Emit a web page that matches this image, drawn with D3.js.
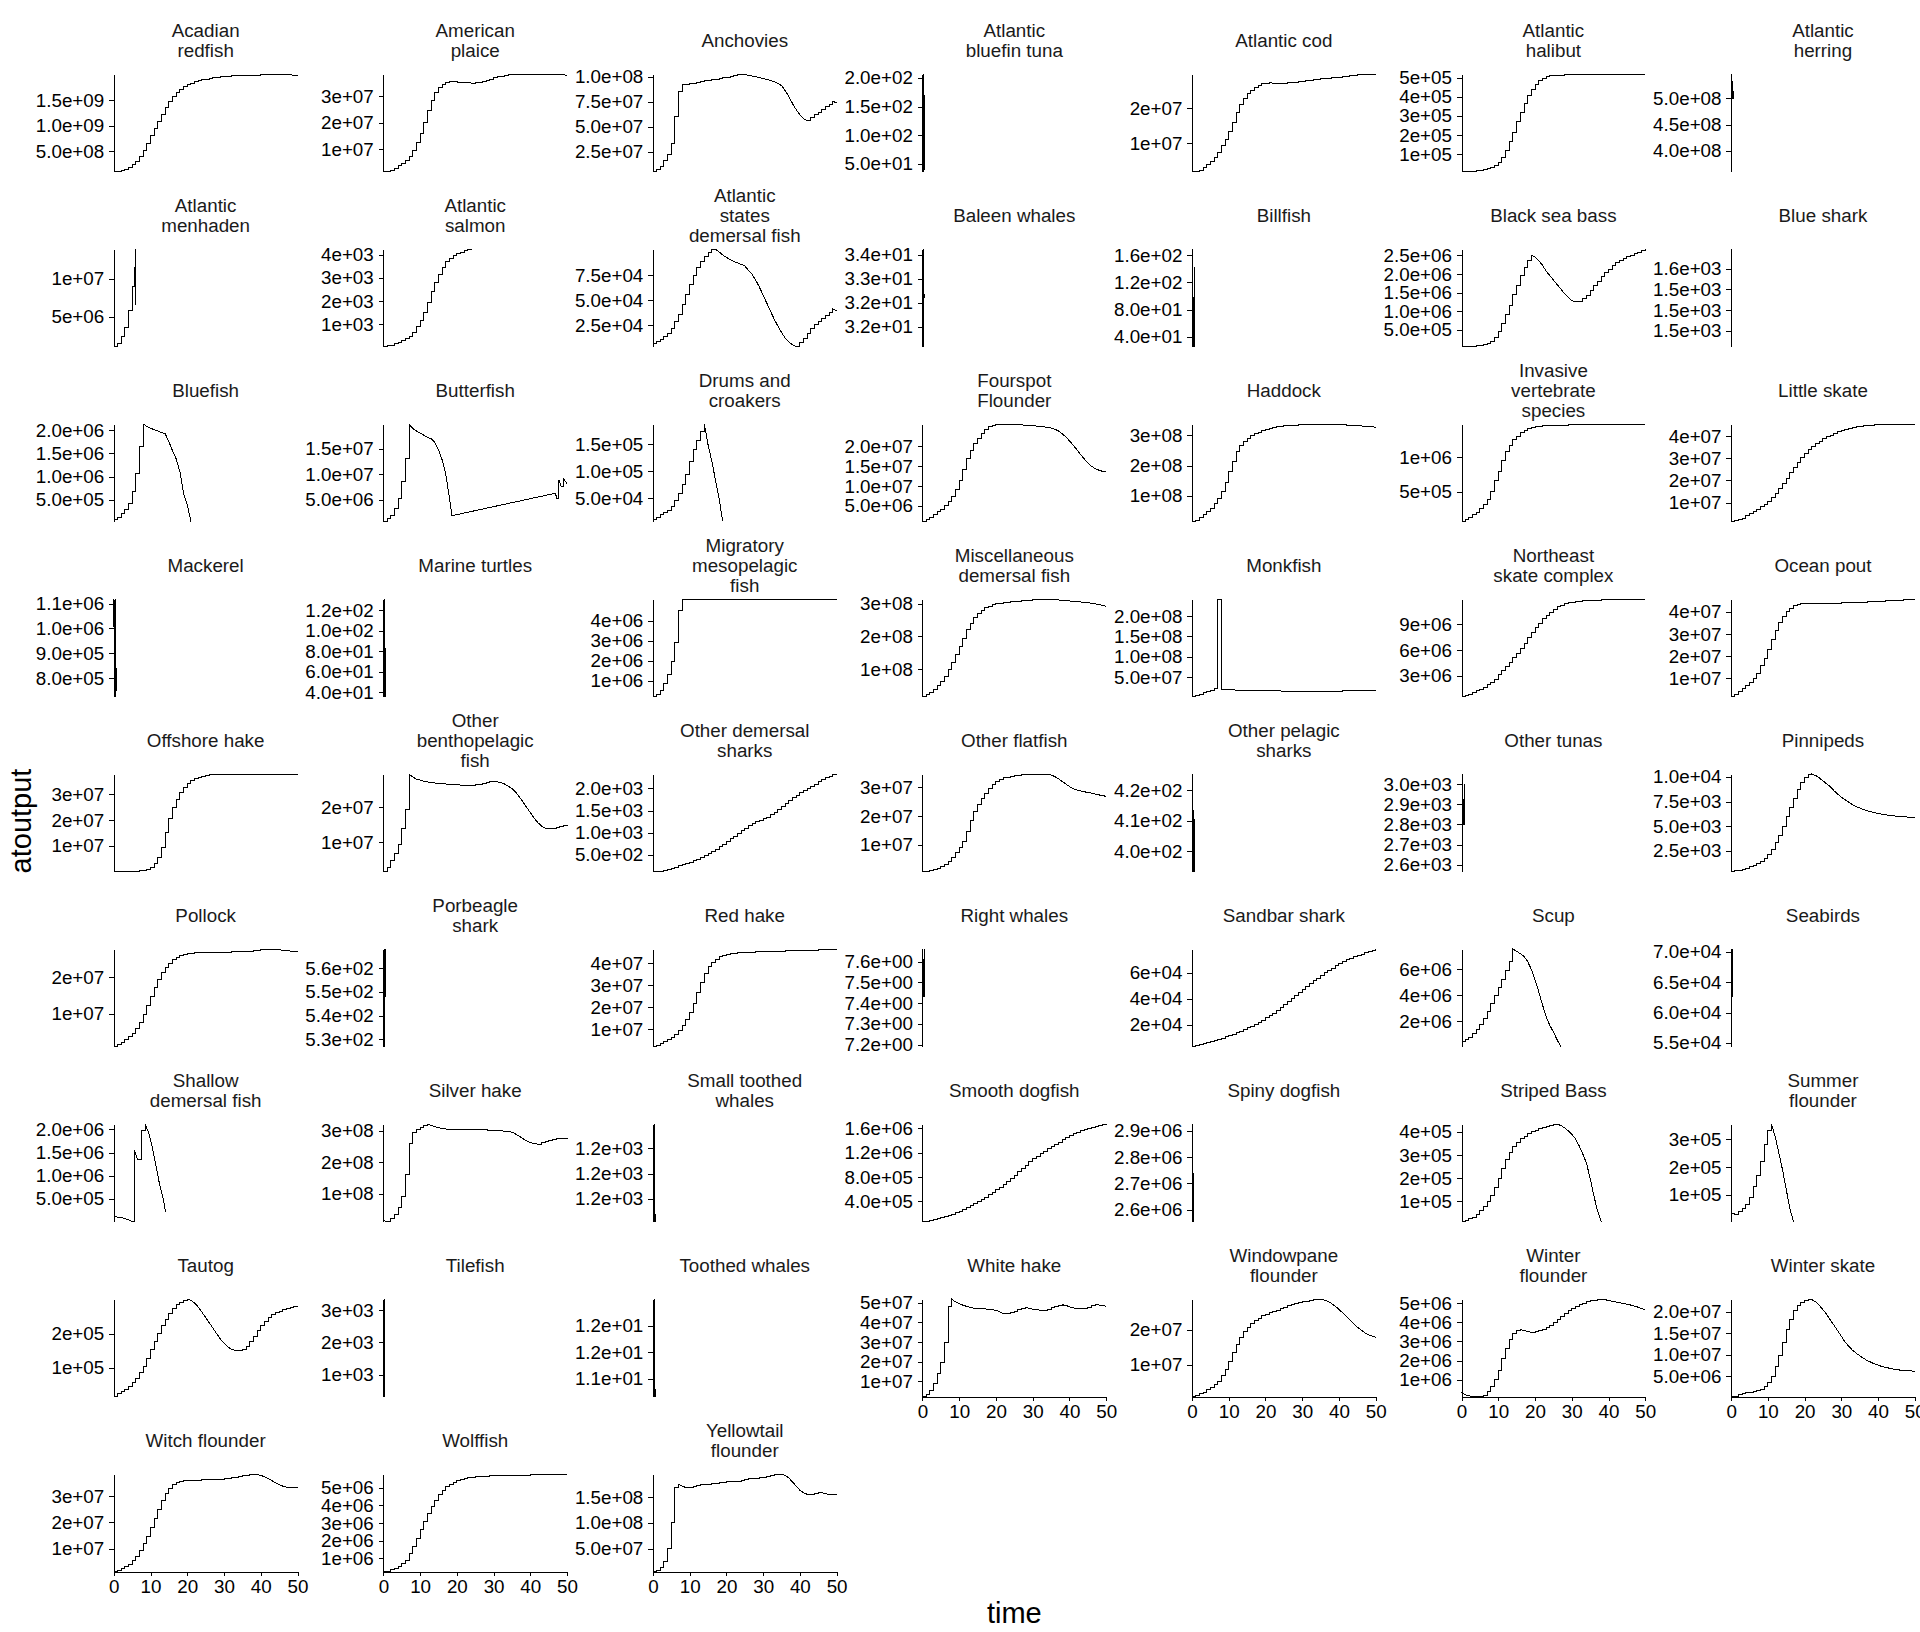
<!DOCTYPE html>
<html><head><meta charset="utf-8">
<script src="https://cdn.jsdelivr.net/npm/d3@7"></script>
<style>
html,body{margin:0;padding:0;background:#fff;}
svg{display:block;}
text{font-family:"Liberation Sans",Arial,Helvetica,sans-serif;}
</style></head><body>
<svg id="chart" width="1920" height="1632"></svg>
<script>
// ---------------- DATA ----------------
const speciesNames = [
 "Acadian redfish","American plaice","Anchovies","Atlantic bluefin tuna","Atlantic cod","Atlantic halibut","Atlantic herring",
 "Atlantic menhaden","Atlantic salmon","Atlantic states demersal fish","Baleen whales","Billfish","Black sea bass","Blue shark",
 "Bluefish","Butterfish","Drums and croakers","Fourspot Flounder","Haddock","Invasive vertebrate species","Little skate",
 "Mackerel","Marine turtles","Migratory mesopelagic fish","Miscellaneous demersal fish","Monkfish","Northeast skate complex","Ocean pout",
 "Offshore hake","Other benthopelagic fish","Other demersal sharks","Other flatfish","Other pelagic sharks","Other tunas","Pinnipeds",
 "Pollock","Porbeagle shark","Red hake","Right whales","Sandbar shark","Scup","Seabirds",
 "Shallow demersal fish","Silver hake","Small toothed whales","Smooth dogfish","Spiny dogfish","Striped Bass","Summer flounder",
 "Tautog","Tilefish","Toothed whales","White hake","Windowpane flounder","Winter flounder","Winter skate",
 "Witch flounder","Wolffish","Yellowtail flounder"
];

// unit multiplier of each series (values and ticks below are given in these units)
const yUnits = [
 1e8,1e6,1e6,1,1e6,1e4,1e8,
 1e6,1e3,1e3,1,1,1e5,1,
 1e5,1e6,1e4,1e6,1e7,1e5,1e6,
 1e5,1,1e6,1e7,1e6,1e5,1e6,
 1e6,1e6,1e2,1e6,1,1e3,1e3,
 1e6,1,1e6,1,1e3,1e5,1e4,
 1e5,1e7,1,1e5,1e6,1e4,1e4,
 1e4,1e3,1,1e6,1e6,1e5,1e6,
 1e6,1e5,1e7
];

const yTickValues = [
 [5,10,15],[10,20,30],[25,50,75,100],[50,100,150,200],[10,20],[10,20,30,40,50],[4.0,4.5,5.0],
 [5,10],[1,2,3,4],[25,50,75],[32,32.5,33,33.5],[40,80,120,160],[5,10,15,20,25],[1500,1520,1540,1560],
 [5,10,15,20],[5,10,15],[5,10,15],[5,10,15,20],[10,20,30],[5,10],[10,20,30,40],
 [8,9,10,11],[40,60,80,100,120],[1,2,3,4],[10,20,30],[50,100,150,200],[30,60,90],[10,20,30,40],
 [10,20,30],[10,20],[5,10,15,20],[10,20,30],[400,410,420],[2.6,2.7,2.8,2.9,3.0],[2.5,5,7.5,10],
 [10,20],[530,540,550,560],[10,20,30,40],[7.2,7.3,7.4,7.5,7.6],[20,40,60],[20,40,60],[5.5,6.0,6.5,7.0],
 [5,10,15,20],[10,20,30],[1210,1220,1230],[4,8,12,16],[2.6,2.7,2.8,2.9],[10,20,30,40],[10,20,30],
 [10,20],[1,2,3],[11.4,11.6,11.8],[10,20,30,40,50],[10,20],[10,20,30,40,50],[5,10,15,20],
 [10,20,30],[10,20,30,40,50],[5,10,15]
];

const yTickLabels = [
 ["5.0e+08","1.0e+09","1.5e+09"],["1e+07","2e+07","3e+07"],["2.5e+07","5.0e+07","7.5e+07","1.0e+08"],["5.0e+01","1.0e+02","1.5e+02","2.0e+02"],["1e+07","2e+07"],["1e+05","2e+05","3e+05","4e+05","5e+05"],["4.0e+08","4.5e+08","5.0e+08"],
 ["5e+06","1e+07"],["1e+03","2e+03","3e+03","4e+03"],["2.5e+04","5.0e+04","7.5e+04"],["3.2e+01","3.2e+01","3.3e+01","3.4e+01"],["4.0e+01","8.0e+01","1.2e+02","1.6e+02"],["5.0e+05","1.0e+06","1.5e+06","2.0e+06","2.5e+06"],["1.5e+03","1.5e+03","1.5e+03","1.6e+03"],
 ["5.0e+05","1.0e+06","1.5e+06","2.0e+06"],["5.0e+06","1.0e+07","1.5e+07"],["5.0e+04","1.0e+05","1.5e+05"],["5.0e+06","1.0e+07","1.5e+07","2.0e+07"],["1e+08","2e+08","3e+08"],["5e+05","1e+06"],["1e+07","2e+07","3e+07","4e+07"],
 ["8.0e+05","9.0e+05","1.0e+06","1.1e+06"],["4.0e+01","6.0e+01","8.0e+01","1.0e+02","1.2e+02"],["1e+06","2e+06","3e+06","4e+06"],["1e+08","2e+08","3e+08"],["5.0e+07","1.0e+08","1.5e+08","2.0e+08"],["3e+06","6e+06","9e+06"],["1e+07","2e+07","3e+07","4e+07"],
 ["1e+07","2e+07","3e+07"],["1e+07","2e+07"],["5.0e+02","1.0e+03","1.5e+03","2.0e+03"],["1e+07","2e+07","3e+07"],["4.0e+02","4.1e+02","4.2e+02"],["2.6e+03","2.7e+03","2.8e+03","2.9e+03","3.0e+03"],["2.5e+03","5.0e+03","7.5e+03","1.0e+04"],
 ["1e+07","2e+07"],["5.3e+02","5.4e+02","5.5e+02","5.6e+02"],["1e+07","2e+07","3e+07","4e+07"],["7.2e+00","7.3e+00","7.4e+00","7.5e+00","7.6e+00"],["2e+04","4e+04","6e+04"],["2e+06","4e+06","6e+06"],["5.5e+04","6.0e+04","6.5e+04","7.0e+04"],
 ["5.0e+05","1.0e+06","1.5e+06","2.0e+06"],["1e+08","2e+08","3e+08"],["1.2e+03","1.2e+03","1.2e+03"],["4.0e+05","8.0e+05","1.2e+06","1.6e+06"],["2.6e+06","2.7e+06","2.8e+06","2.9e+06"],["1e+05","2e+05","3e+05","4e+05"],["1e+05","2e+05","3e+05"],
 ["1e+05","2e+05"],["1e+03","2e+03","3e+03"],["1.1e+01","1.2e+01","1.2e+01"],["1e+07","2e+07","3e+07","4e+07","5e+07"],["1e+07","2e+07"],["1e+06","2e+06","3e+06","4e+06","5e+06"],["5.0e+06","1.0e+07","1.5e+07","2.0e+07"],
 ["1e+07","2e+07","3e+07"],["1e+06","2e+06","3e+06","4e+06","5e+06"],["5.0e+07","1.0e+08","1.5e+08"]
];

// series values (in yUnits); yearly time steps 0,1,2,... unless listed in seriesTimes
const seriesValues = [
 /* Acadian redfish */ [1.10,1.00,1.15,1.35,1.70,2.40,3.00,4.00,5.20,6.50,8.00,9.50,10.90,12.20,13.60,14.80,15.80,16.60,17.20,17.70,18.10,18.40,18.70,18.90,19.05,19.20,19.35,19.50,19.60,19.70,19.75,19.80,19.85,19.90,19.92,19.95,19.97,19.98,20.00,20.00,20.05,20.05,20.10,20.10,20.15,20.20,20.15,20.10,20.05,19.95,19.85],
 /* American plaice */ [1.7,1.8,2.2,2.9,3.8,4.8,5.8,7.3,9.5,12.5,16.0,20.0,24.5,28.5,31.5,33.5,34.6,35.2,35.5,35.5,35.4,35.3,35.2,35.1,35.0,35.1,35.3,35.7,36.1,36.5,36.9,37.3,37.6,37.9,38.1,38.2,38.3,38.4,38.4,38.3,38.3,38.4,38.4,38.3,38.3,38.3,38.3,38.2,38.3,38.1,37.9],
 /* Anchovies */ [5.4,7,10,16,22,33,60,85,92,92.5,93,93.5,94.5,95,96,96.5,97,97.5,98,98.8,99.5,100.5,101.5,102.2,102.5,102,101.3,100.5,99.8,99,98,97,96,95,93,91,86,80,73,67,62,58,56,59,62,64,67,70,72,75,74],
 /* Atlantic bluefin tuna */ [37,206.6,40,170,92],
 /* Atlantic cod */ [2.1,1.95,2.2,3.0,3.8,4.8,6.0,7.5,9.3,11.2,13.5,16,18.8,21.2,23,24.3,25.3,26.1,26.7,27.1,27.3,27.4,27.3,27.3,27.3,27.3,27.4,27.5,27.6,27.7,27.8,27.9,28.1,28.2,28.4,28.5,28.6,28.7,28.8,28.9,29.0,29.1,29.2,29.5,29.6,29.7,29.8,29.9,29.9,29.9,29.85],
 /* Atlantic halibut */ [1.2,0.9,1.0,1.1,1.3,1.6,2.0,2.5,3.1,4.2,5.8,8.2,11.8,16.5,21.5,27,32,36.5,40.5,44,46.5,48.5,49.8,50.6,51,51.2,51.3,51.4,51.5,51.6,51.7,51.7,51.8,51.8,51.8,51.9,51.9,51.9,51.9,52.0,52.0,52.0,52.0,52.0,52.0,52.0,52.0,52.0,52.0,52.0,52.0],
 /* Atlantic herring */ [3.6,5.47,5.3,5.0,5.15],
 /* Atlantic menhaden */ [1.1,1.5,2.4,3.6,5.8,8.9,11.5,13.87,6.5],
 /* Atlantic salmon */ [0.03,0.06,0.09,0.15,0.22,0.29,0.38,0.48,0.65,0.88,1.15,1.5,1.95,2.4,2.8,3.15,3.45,3.7,3.85,3.97,4.05,4.12,4.17,4.21,4.25],
 /* Atlantic states demersal fish */ [6.5,8.5,10.5,13,16,21,28,36,46,56,66,75,83,89,94,98,100.5,101.4,98.5,95.5,93,91,89,87.5,86,84.5,80,76,70,63,55,47,39,31,24,17.5,12,8,5,3.4,7,11,16,21,25,28,32,35,38,41,39],
 /* Baleen whales */ [31.59,33.62,32.6],
 /* Billfish */ [25.4,169.4,25.4,142.8],
 /* Black sea bass */ [0.57,0.6,0.62,0.65,0.75,0.9,1.1,1.4,2.0,3.0,4.7,6.8,9.2,11.6,14.5,17.0,19.5,21.8,23.6,25.0,24.6,23.6,22.4,20.8,19.6,18.4,17.2,16.0,14.8,13.8,12.9,12.5,12.7,13.3,14.3,15.5,16.8,18.0,19.2,20.3,21.3,22.2,23.0,23.6,24.2,24.7,25.1,25.5,25.9,26.3,26.7],
 /* Blue shark */ [1579,1484.7],
 /* Bluefish */ [0.7,1.2,2.1,2.9,4.3,6.8,10.7,16.5,21.3,20.8,20.4,20.1,19.8,19.5,19.2,17.5,15.5,13.8,11.0,6.4,3.9,0.34],
 /* Butterfish */ [0.81,1.3,2.0,3.3,5.2,8.5,13.0,19.75,18.9,18.4,18.0,17.6,17.2,16.9,16.2,14.8,12.8,10.0,1.94,6.3,5.2,8.9,7.6,9.2,8.2],
 /* Drums and croakers */ [1.0,1.4,1.9,2.3,2.7,3.5,4.5,5.8,7.5,9.5,11.8,14.0,15.8,17.5,18.8,15.0,12.0,8.5,5.0,0.67],
 /* Fourspot Flounder */ [1.07,1.5,2.1,2.8,3.5,4.2,5.0,6.0,7.3,9.0,11.5,14.2,17.0,19.0,20.6,22.0,23.3,24.3,24.9,25.2,25.4,25.5,25.6,25.6,25.6,25.5,25.5,25.4,25.3,25.2,25.2,25.1,25.0,24.9,24.8,24.6,24.3,23.9,23.2,22.4,21.4,20.3,19.2,18.0,16.9,15.8,15.0,14.4,14.0,13.7,13.5],
 /* Haddock */ [1.57,1.9,2.9,3.8,4.8,6.0,7.5,9.3,11.5,14.5,18,21.5,24.5,26.5,27.8,29,29.9,30.5,31.0,31.5,32.0,32.3,32.6,32.8,33.0,33.1,33.2,33.3,33.3,33.4,33.4,33.5,33.5,33.6,33.6,33.7,33.7,33.6,33.6,33.6,33.5,33.5,33.4,33.3,33.3,33.2,33.1,33.0,32.9,32.8,32.7],
 /* Invasive vertebrate species */ [0.64,0.9,1.2,1.6,2.0,2.5,3.1,3.9,5.0,6.6,8.0,9.5,10.8,11.8,12.6,13.1,13.6,14.0,14.2,14.4,14.5,14.55,14.6,14.65,14.7,14.7,14.7,14.72,14.74,14.75,14.75,14.76,14.77,14.78,14.79,14.8,14.81,14.82,14.83,14.84,14.85,14.86,14.86,14.87,14.87,14.88,14.88,14.87,14.86,14.85,14.85],
 /* Little skate */ [1.44,1.7,2.2,3.0,4.0,5.0,6.0,7.0,8.0,9.0,10.5,12.3,14.3,16.3,18.5,21.0,23.5,26.0,28.2,30.2,32.0,33.8,35.3,36.6,37.8,38.8,39.7,40.5,41.3,42.0,42.6,43.1,43.6,44.0,44.3,44.5,44.7,44.9,45.0,45.1,45.2,45.2,45.3,45.3,45.4,45.4,45.4,45.5,45.5,45.5,45.5],
 /* Mackerel */ [11.18,7.26,11.18,7.9,8.4,7.5],
 /* Marine turtles */ [36,130.8,36,83.3],
 /* Migratory mesopelagic fish */ [0.195,0.3,0.5,0.85,1.3,1.95,2.9,4.5,5.09,5.095,5.095,5.095,5.095,5.095,5.095,5.095,5.095,5.095,5.095,5.095,5.095,5.095,5.095,5.095,5.095,5.095,5.095,5.095,5.095,5.095,5.095,5.095,5.095,5.095,5.095,5.095,5.095,5.095,5.095,5.095,5.095,5.095,5.095,5.095,5.095,5.095,5.095,5.095,5.095,5.095,5.095],
 /* Miscellaneous demersal fish */ [1.67,2.2,3.0,3.9,5.0,6.2,7.8,9.8,12.0,14.5,17.0,19.5,22.0,24.0,25.8,27.0,28.0,28.7,29.2,29.6,29.9,30.1,30.3,30.4,30.5,30.6,30.7,30.8,30.9,31.0,31.1,31.2,31.3,31.35,31.36,31.3,31.2,31.1,31.0,30.9,30.8,30.7,30.6,30.5,30.4,30.3,30.1,29.9,29.7,29.5,29.2],
 /* Monkfish */ [2.2,4,8,11,14,18,23,242,242,19,18.8,18.6,18.4,18.2,18.0,17.8,17.6,17.4,17.2,17.0,16.8,16.6,16.4,16.2,16.0,15.8,15.7,15.6,15.5,15.4,15.3,15.2,15.2,15.1,15.1,15.1,15.2,15.2,15.3,15.4,15.5,15.6,15.8,16.0,16.2,16.4,16.6,16.8,17.0,17.2,17.4,17.6],
 /* Northeast skate complex */ [6.0,7,8.5,10.5,12.5,14.5,17,19.5,22.5,26,31,36,41,46,51,56,62,68,74,80,86,91,96,100,104,107,110,112,113.5,114.5,115.5,116,116.5,117,117.3,117.5,117.7,117.8,118,118.2,118.4,118.5,118.6,118.7,118.8,119,119,118.8,118.8,118.7,118.6],
 /* Ocean pout */ [1.67,2.5,3.8,5.2,6.5,7.8,9.8,12.3,15.5,19,23,27.5,31.5,35,37.8,40,41.7,42.7,43.3,43.6,43.8,43.9,43.9,43.9,43.9,44.0,44.0,44.0,44.0,44.0,44.1,44.1,44.2,44.3,44.3,44.4,44.4,44.5,44.6,44.7,44.8,44.9,45.0,45.1,45.2,45.3,45.4,45.5,45.6,45.7,45.8],
 /* Offshore hake */ [0.1,0.05,0,0,0.05,0.1,0.2,0.3,0.4,0.8,1.5,3,5.5,9.5,15,20.5,24.8,28,30.5,32.5,34,35.2,36,36.6,37,37.3,37.5,37.6,37.7,37.7,37.8,37.8,37.8,37.8,37.8,37.8,37.8,37.8,37.8,37.8,37.8,37.8,37.8,37.8,37.8,37.7,37.7,37.7,37.6,37.6,37.6],
 /* Other benthopelagic fish */ [1.75,3,5,7,9.5,14,19.5,29.4,28.6,28.0,27.7,27.4,27.2,27.0,26.9,26.8,26.7,26.6,26.5,26.5,26.4,26.3,26.2,26.2,26.3,26.4,26.6,26.8,27.0,27.2,27.3,27.2,27.0,26.6,26.0,25.3,24.3,23.0,21.5,20.0,18.5,17.0,15.7,14.7,14.1,13.9,14.0,14.3,14.6,14.9,15.1],
 /* Other demersal sharks */ [1.3,1.19,1.25,1.4,1.6,1.9,2.2,2.45,2.7,3.0,3.3,3.6,4.0,4.4,4.8,5.2,5.7,6.2,6.8,7.4,8.0,8.6,9.2,9.8,10.4,11.0,11.6,12.1,12.5,12.8,13.1,13.5,14.0,14.6,15.3,16.0,16.7,17.3,17.9,18.5,19.0,19.5,20.0,20.5,21.0,21.5,22.0,22.4,22.8,23.1,23.24],
 /* Other flatfish */ [0.68,0.8,1.0,1.4,1.9,2.5,3.3,4.3,5.5,7.2,9.0,11.0,14.5,18.5,21.5,24,26,28,29.7,31,32.2,32.9,33.3,33.6,33.9,34.1,34.3,34.4,34.5,34.55,34.6,34.6,34.6,34.6,34.5,34.3,33.8,33.0,32.1,31.2,30.3,29.6,29.1,28.8,28.5,28.2,28.0,27.7,27.4,27.1,26.9],
 /* Other pelagic sharks */ [393.4,425.2,393.4,410.6],
 /* Other tunas */ [2.566,3.05,2.8,3.0],
 /* Pinnipeds */ [0.393,0.45,0.55,0.65,0.75,0.88,1.0,1.2,1.45,1.75,2.1,2.6,3.3,4.1,5.0,6.0,6.9,7.8,8.7,9.4,9.9,10.2,10.28,10.15,9.9,9.6,9.3,9.0,8.6,8.25,7.95,7.7,7.45,7.2,7.0,6.85,6.7,6.58,6.47,6.38,6.3,6.22,6.16,6.1,6.06,6.02,5.98,5.95,5.93,5.91,5.9],
 /* Pollock */ [1.0,1.5,2.2,3.0,3.8,4.7,6.0,7.6,9.8,12.2,14.7,17.2,19.5,21.4,22.8,23.9,24.8,25.5,26.0,26.3,26.5,26.6,26.7,26.7,26.7,26.7,26.7,26.8,26.8,26.8,26.9,26.9,27.0,27.0,27.1,27.1,27.2,27.2,27.3,27.4,27.5,27.5,27.6,27.7,27.7,27.6,27.4,27.3,27.2,27.1,27.0],
 /* Porbeagle shark */ [527,568,548,568],
 /* Red hake */ [2.0,2.5,3.3,4.2,5.1,6.2,7.6,9.2,11.5,14.3,17.5,21.5,26.5,31.5,35.5,38.5,40.5,42,43,43.7,44.1,44.4,44.6,44.8,44.9,45.0,45.1,45.2,45.3,45.3,45.4,45.4,45.5,45.5,45.6,45.6,45.7,45.7,45.8,45.8,45.9,45.9,46.0,46.0,46.1,46.2,46.3,46.4,46.4,46.5,46.5],
 /* Right whales */ [7.19,7.661,7.43,7.661],
 /* Sandbar shark */ [3.2,3.8,4.5,5.2,6.0,6.9,7.8,8.7,9.7,10.7,11.7,12.8,13.9,15.0,16.3,17.6,19.0,20.5,22.0,23.6,25.2,27.0,28.9,30.9,33.0,35.2,37.5,39.9,42.3,44.8,47.3,49.6,51.8,53.9,55.9,57.9,59.8,61.7,63.5,65.2,66.9,68.4,69.8,71.1,72.3,73.4,74.4,75.4,76.3,77.2,78.1],
 /* Scup */ [4.5,6,8,11,14,17.5,22,28,34,40,46,52,59,66,75.5,74,72,70,66,60,52,43,33,24,17,12,6,0.69],
 /* Seabirds */ [5.4393,7.0443,6.264,7.0443],
 /* Shallow demersal fish */ [1.25,1.1,0.95,0.8,0.5,0.11,15.6,13.4,19.8,21.1,19.2,16.0,12.0,8.0,4.8,2.1],
 /* Silver hake */ [1.5,1.12,2.0,3.5,5.5,9,16,26,29.5,30.5,31.2,31.8,32.1,31.8,31.3,31.0,30.8,30.6,30.5,30.4,30.4,30.3,30.3,30.3,30.4,30.4,30.4,30.3,30.3,30.2,30.2,30.1,30.0,29.9,29.8,29.6,29.0,28.3,27.5,26.8,26.2,26.0,25.8,26.2,26.6,27.0,27.3,27.5,27.6,27.7,27.8],
 /* Small toothed whales */ [1201,1239.5,1201],
 /* Smooth dogfish */ [0.66,0.75,0.88,1.02,1.2,1.38,1.52,1.7,1.9,2.1,2.35,2.65,2.95,3.3,3.65,4.0,4.35,4.7,5.1,5.5,5.9,6.35,6.8,7.3,7.8,8.3,8.85,9.4,9.95,10.5,11.0,11.45,11.85,12.25,12.65,13.0,13.4,13.75,14.1,14.45,14.8,15.1,15.4,15.65,15.85,16.0,16.15,16.3,16.45,16.58,16.69],
 /* Spiny dogfish */ [2.554,2.925,2.554,2.738],
 /* Striped Bass */ [1.5,1.8,2.4,3.2,4.5,6,7.8,9.8,12.5,16,20,24,28,31,33.5,35.5,37,38.2,39.2,40,40.7,41.3,41.8,42.3,42.8,43.2,43.3,42.8,41.8,40.5,39.0,37.0,34.0,30.5,26.5,20,12.5,6,1.26],
 /* Summer flounder */ [3.4,3.0,4.0,5.0,6.4,9,13,17,22,28,33.3,35.46,31,25,19,12,5,0.27],
 /* Tautog */ [1.57,2.4,3.0,3.6,4.5,5.6,7.0,8.6,10.5,12.8,15.3,17.8,20.2,22.3,24.2,26.0,27.4,28.5,29.3,29.8,30.1,29.8,29.0,27.8,26.3,24.8,23.2,21.6,20.0,18.5,17.2,16.2,15.5,15.1,15.0,15.3,16.2,17.6,19.3,21.0,22.5,23.7,24.7,25.5,26.1,26.6,27.0,27.4,27.7,28.0,28.2],
 /* Tilefish */ [0.317,3.332,0.317],
 /* Toothed whales */ [11.266,12.001,11.266],
 /* White hake */ [2.15,3.5,5.5,9,14,19.5,30,48,51.8,50.5,49.5,48.8,48.2,47.6,47.3,47.1,47.0,46.9,46.7,46.5,46.2,45.5,44.4,44.6,45.2,45.8,46.5,47.2,47.6,47.3,46.8,46.5,46.3,46.2,46.8,47.6,48.3,48.8,49.0,48.7,48.0,47.4,47.1,47.0,47.1,47.6,48.4,49.0,48.9,48.6,48.3],
 /* Windowpane flounder */ [0.8,1.1,1.6,2.1,2.8,3.5,4.2,5.3,6.8,8.6,10.8,13.4,15.8,17.8,19.4,20.8,21.9,22.7,23.4,24.0,24.5,24.9,25.3,25.7,26.1,26.5,26.9,27.2,27.5,27.8,28.1,28.3,28.5,28.7,28.8,28.8,28.6,28.2,27.6,26.8,25.9,24.9,23.9,22.8,21.8,20.8,20.0,19.2,18.6,18.2,17.9],
 /* Winter flounder */ [3.5,2.0,1.5,1.2,1.1,1.04,1.5,3.5,6.5,10,15,21,26.5,31,34,35.5,36.2,35.8,35.2,34.8,35,35.5,36.3,37.3,38.6,40,41.5,43,44.5,46,47.2,48.2,49.2,50,50.7,51.3,51.7,52,52.1,51.9,51.5,51.1,50.7,50.3,49.9,49.5,49.1,48.6,48.0,47.3,46.5],
 /* Winter skate */ [0.3,0.27,0.8,1.0,1.2,1.3,1.4,1.7,2.0,2.6,3.5,5.0,7.2,9.8,12.8,15.8,18.3,20.2,21.4,22.2,22.7,22.9,22.8,22.3,21.5,20.5,19.4,18.1,16.9,15.6,14.3,13.0,12.0,11.1,10.4,9.8,9.2,8.7,8.3,7.9,7.6,7.3,7.1,6.9,6.7,6.55,6.45,6.35,6.3,6.25,6.2],
 /* Witch flounder */ [1.16,1.6,2.2,3.0,4.0,5.3,7.0,9.2,11.8,14.7,18,21.5,25,28.2,31,33,34.3,35.1,35.6,35.9,36.0,36.1,36.1,36.1,36.2,36.2,36.3,36.3,36.4,36.5,36.6,36.7,36.9,37.1,37.4,37.7,38.0,38.2,38.3,38.2,37.9,37.4,36.7,35.9,35.1,34.4,33.8,33.4,33.2,33.1,33.1],
 /* Wolffish */ [2.4,2.8,3.4,4.2,5.4,7.0,9.0,12.5,16.5,21.5,26.5,31,35.5,39.5,43,46,48.5,50.5,52,53.2,54.1,54.8,55.3,55.7,56,56.2,56.4,56.5,56.6,56.7,56.8,56.8,56.9,56.9,57,57,57.1,57.1,57.2,57.2,57.3,57.3,57.4,57.4,57.5,57.5,57.5,57.6,57.6,57.6,57.6],
 /* Yellowtail flounder */ [0.47,0.8,1.2,2.5,5.0,10,17,17.5,17.2,16.9,17.0,17.2,17.4,17.5,17.6,17.6,17.7,17.8,17.9,17.9,18.0,18.0,18.0,18.1,18.3,18.5,18.6,18.6,18.7,18.8,18.9,19.1,19.3,19.4,19.5,19.5,19.3,18.8,18.0,17.2,16.4,15.9,15.6,15.6,15.8,16.0,15.9,15.7,15.6,15.6,15.7]
];

// irregular sampling times for some series
const seriesTimes = {
 "Atlantic bluefin tuna": [0,0.2,0.3,0.45,0.6],
 "Atlantic herring": [0,0.05,0.3,0.5,0.7],
 "Atlantic menhaden": [0,1,2,3,4,5,5.6,5.85,5.95],
 "Baleen whales": [0,0.2,0.45],
 "Billfish": [0,0.15,0.4,0.55],
 "Blue shark": [0,0.05],
 "Butterfish": [0,1,2,3,4,5,6,7,8,9,10,11,12,13,14,15,16,17,18.7,46.8,47.3,47.8,48.4,48.9,50],
 "Mackerel": [0,0.2,0.35,0.5,0.6,0.7],
 "Marine turtles": [0,0.2,0.4,0.6],
 "Monkfish": [0,1,2,3,4,5,6,7,7.9,8,9,10,11,12,13,14,15,16,17,18,19,20,21,22,23,24,25,26,27,28,29,30,31,32,33,34,35,36,37,38,39,40,41,42,43,44,45,46,47,48,49,50],
 "Other pelagic sharks": [0,0.2,0.4,0.55],
 "Other tunas": [0,0.3,0.5,0.7],
 "Porbeagle shark": [0,0.2,0.4,0.6],
 "Right whales": [0,0.1,0.35,0.5],
 "Seabirds": [0,0.1,0.3,0.45],
 "Shallow demersal fish": [0,1,2,3,4,5,5.5,6.5,7.5,8.5,9.5,10.5,11.5,12.5,13.5,14.1],
 "Small toothed whales": [0,0.3,0.6],
 "Spiny dogfish": [0,0.15,0.3,0.45],
 "Tilefish": [0,0.2,0.4],
 "Toothed whales": [0,0.3,0.6]
};

const xDomain = [0, 50];
const xTickValues = [0, 10, 20, 30, 40, 50];
const xAxisTitle = "time";
const yAxisTitle = "atoutput";

// ---------------- LAYOUT ----------------
const nCols = 7;
const colX0 = 113.8, colStep = 269.55, plotW = 183.7;
const rowY0 = 74, rowStep = 175.04, plotH = 97.4;
const fs = 18.8;
const tickLen = 4.6;
const titleGap = 34, titleLineH = 20, wrapWidth = 14;

const svg = d3.select("#chart");
svg.append("rect").attr("width", 1920).attr("height", 1632).attr("fill", "#fff");

const x = d3.scaleLinear().domain(xDomain).range([0, plotW]);

function wrapTitle(s, w) {
  const words = s.split(" ");
  const lines = [];
  let cur = "";
  words.forEach(wd => {
    if (cur === "") cur = wd;
    else if ((cur + " " + wd).length <= w) cur += " " + wd;
    else { lines.push(cur); cur = wd; }
  });
  if (cur) lines.push(cur);
  return lines;
}

function buildPath(pts, xs, ys) {
  let d = `M${xs(pts[0][0])},${ys(pts[0][1])}`;
  for (let k = 1; k < pts.length; k++) {
    const [t0, v0] = pts[k - 1], [t1, v1] = pts[k];
    if (v1 > v0 && t1 - t0 <= 1.01) d += `H${xs(t1)}V${ys(v1)}`;
    else d += `L${xs(t1)},${ys(v1)}`;
  }
  return d;
}

const nPanels = speciesNames.length;
speciesNames.forEach((name, i) => {
  const c = i % nCols, r = Math.floor(i / nCols);
  const g = svg.append("g").attr("transform", `translate(${colX0 + c * colStep},${rowY0 + r * rowStep})`);
  const unit = yUnits[i];
  const vals = seriesValues[i];
  const times = seriesTimes[name] || vals.map((_, k) => k);
  const pts = [];
  vals.forEach((v, k) => { if (v != null) pts.push([times[k], v * unit]); });
  const y = d3.scaleLinear().domain(d3.extent(pts, p => p[1])).range([plotH, 0]);

  // data line
  g.append("path")
    .attr("d", buildPath(pts, x, y))
    .attr("fill", "none")
    .attr("stroke", "#000")
    .attr("stroke-width", 1)
    .attr("shape-rendering", "crispEdges");

  // y axis
  const labelMap = new Map(yTickValues[i].map((v, j) => [v * unit, yTickLabels[i][j]]));
  const yAxis = d3.axisLeft(y)
    .tickValues(yTickValues[i].map(v => v * unit))
    .tickFormat(d => labelMap.get(d))
    .tickSize(tickLen).tickSizeOuter(0).tickPadding(5);
  const ya = g.append("g").call(yAxis);
  ya.attr("font-family", null).attr("font-size", null);
  ya.select(".domain").attr("stroke", "#000").attr("stroke-width", 1).attr("shape-rendering", "crispEdges");
  ya.selectAll(".tick line").attr("stroke", "#000").attr("stroke-width", 1).attr("shape-rendering", "crispEdges");
  ya.selectAll(".tick text").attr("fill", "#000").attr("font-size", fs).attr("dy", "0.32em");

  // x axis only on the lowest panel of each column
  if (i + nCols >= nPanels) {
    const xa = g.append("g").attr("transform", `translate(0,${plotH})`)
      .call(d3.axisBottom(x).tickValues(xTickValues).tickSize(tickLen).tickSizeOuter(0).tickPadding(3.5));
    xa.attr("font-family", null).attr("font-size", null);
    xa.select(".domain").attr("stroke", "#000").attr("stroke-width", 1).attr("shape-rendering", "crispEdges");
    xa.selectAll(".tick line").attr("stroke", "#000").attr("stroke-width", 1).attr("shape-rendering", "crispEdges");
    xa.selectAll(".tick text").attr("fill", "#000").attr("font-size", fs);
  }

  // strip title
  const lines = wrapTitle(name, wrapWidth);
  const n = lines.length;
  lines.forEach((ln, k) => {
    g.append("text")
      .attr("x", plotW / 2)
      .attr("y", -titleGap + (k - (n - 1) / 2) * titleLineH + 0.36 * fs)
      .attr("text-anchor", "middle")
      .attr("font-size", fs)
      .attr("fill", "#1a1a1a")
      .text(ln);
  });
});

// axis titles
svg.append("text")
  .attr("x", 1014.3).attr("y", 1623)
  .attr("text-anchor", "middle").attr("font-size", 29).attr("fill", "#000")
  .text(xAxisTitle);
svg.append("text")
  .attr("transform", "translate(31,821) rotate(-90)")
  .attr("text-anchor", "middle").attr("font-size", 29).attr("fill", "#000")
  .text(yAxisTitle);
</script>
</body></html>
